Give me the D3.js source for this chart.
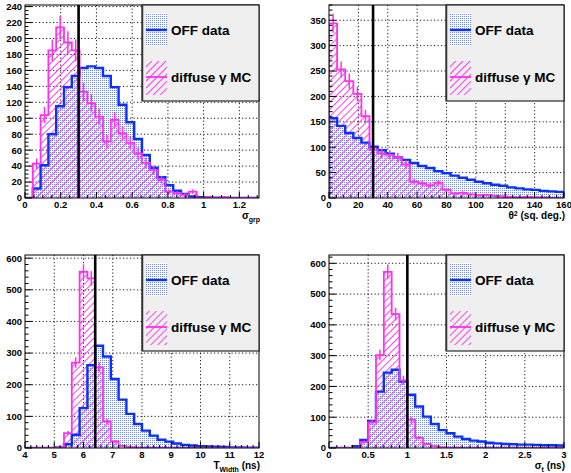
<!DOCTYPE html>
<html>
<head>
<meta charset="utf-8">
<script src="https://cdn.jsdelivr.net/npm/d3@7"></script>
<style>
  body { margin: 0; background: #fff; }
  text { font-family: "Liberation Sans", Arial, Helvetica, sans-serif; font-weight: bold; }
</style>
</head>
<body>
<div id="chart"></div>
<script>
// histogram contents, one entry per bin
const sgrpOff = [0, 12, 41, 80, 115, 139, 153, 163, 165, 163, 153, 139, 117, 95, 74, 54, 38, 26, 16, 9, 5, 2, 1, 1, 0.5, 0.3, 0, 0, 0, 0];
const sgrpMC  = [0, 43, 104, 185, 214, 195, 185, 133, 119, 102, 71, 98, 81, 69, 56, 44, 35, 23, 8, 6, 4, 8, 0, 1, 0, 1, 0, 0, 0, 0];

const th2Off = [157, 142, 128, 118, 109, 101, 94, 87, 80, 75, 69, 63, 59, 53, 49, 44, 40, 36, 32, 29, 26, 24, 21, 19, 17, 16, 14, 13, 12];
const th2MC  = [344, 253, 230, 205, 161, 95, 88, 85, 80, 66, 32, 29, 25, 30, 16, 9, 10, 7, 5, 6, 4, 3, 2, 1, 2, 1, 1, 0, 0];

const twOff = [0, 0, 0, 0, 2, 12, 42, 126, 262, 323, 289, 218, 153, 108, 76, 55, 39, 26, 20, 14, 10, 8, 6, 5, 4, 3, 2, 2, 1, 1];
const twMC  = [0, 0, 0, 0, 2, 47, 270, 557, 536, 255, 84, 21, 7, 3, 1, 1, 0, 0, 0, 0, 0, 0, 0, 0, 0, 0, 0, 0, 0, 0];

const stOff = [0, 0, 0, 6, 26, 88, 183, 245, 254, 216, 173, 135, 102, 78, 58, 48, 37, 29, 24, 21, 17, 15, 13, 12, 11, 11, 10, 9, 9, 8];
const stMC  = [0, 0, 0, 0, 20, 83, 302, 572, 435, 220, 92, 33, 13, 6, 3, 1, 1, 0, 0, 0, 0, 0, 0, 0, 0, 0, 0, 0, 0, 0];

// tick labels
const sgrpXTicks = [0, 0.2, 0.4, 0.6, 0.8, 1, 1.2];
const sgrpYTicks = [0, 20, 40, 60, 80, 100, 120, 140, 160, 180, 200, 220, 240];
const th2XTicks = [0, 20, 40, 60, 80, 100, 120, 140, 160];
const th2YTicks = [0, 50, 100, 150, 200, 250, 300, 350];
const twXTicks = [4, 5, 6, 7, 8, 9, 10, 11, 12];
const twYTicks = [0, 100, 200, 300, 400, 500, 600];
const stXTicks = [0, 0.5, 1, 1.5, 2, 2.5, 3];
const stYTicks = [0, 100, 200, 300, 400, 500, 600];

const legendLabels = ["OFF data", "diffuse \u03b3 MC"];

const BLUE = "#0a32ff", MAG = "#ff30f0";

const panels = [
  { x0: 25, x1: 259, y0: 5, y1: 198, xd: [0, 1.31], yd: [0, 242], off: sgrpOff, mc: sgrpMC, cut: 0.3,
    xt: sgrpXTicks, yt: sgrpYTicks, xm: 4, ym: 4, title: [["\u03c3", 0], ["grp", 1]] },
  { x0: 329, x1: 564, y0: 5, y1: 198, xd: [0, 160], yd: [0, 380], off: th2Off, mc: th2MC, cut: 30,
    xt: th2XTicks, yt: th2YTicks, xm: 4, ym: 5, title: [["\u03b8", 0], ["2", -1], [" (sq. deg.)", 0]] },
  { x0: 25, x1: 259, y0: 255, y1: 448, xd: [4, 12], yd: [0, 610], off: twOff, mc: twMC, cut: 6.4,
    xt: twXTicks, yt: twYTicks, xm: 5, ym: 5, title: [["T", 0], ["Width", 1], [" (ns)", 0]] },
  { x0: 329, x1: 564, y0: 255, y1: 448, xd: [0, 3], yd: [0, 627], off: stOff, mc: stMC, cut: 1.0,
    xt: stXTicks, yt: stYTicks, xm: 5, ym: 5, title: [["\u03c3", 0], ["t", 1], [" (ns)", 0]] }
];

const svg = d3.select("#chart").append("svg")
  .attr("width", 571).attr("height", 473);

const defs = svg.append("defs");
// dotted blue fill
const dots = defs.append("pattern").attr("id", "dots")
  .attr("patternUnits", "userSpaceOnUse").attr("width", 2).attr("height", 2);
dots.append("rect").attr("width", 2).attr("height", 2).attr("fill", "#fff");
dots.append("rect").attr("width", 1).attr("height", 1).attr("fill", "#6f88ff");
// magenta hatch
const hatch = defs.append("pattern").attr("id", "hatch")
  .attr("patternUnits", "userSpaceOnUse").attr("width", 5).attr("height", 5)
  .attr("patternTransform", "rotate(45)");
hatch.append("line").attr("x1", 0.5).attr("y1", 0).attr("x2", 0.5).attr("y2", 5)
  .attr("stroke", MAG).attr("stroke-width", 0.9);

const stepPath = (vals, x, y, edges) => {
  let p = d3.path();
  p.moveTo(x(edges[0]), y(0));
  vals.forEach((v, i) => {
    p.lineTo(x(edges[i]), y(v));
    p.lineTo(x(edges[i + 1]), y(v));
  });
  p.lineTo(x(edges[vals.length]), y(0));
  return p.toString();
};

panels.forEach((P, k) => {
  const x = d3.scaleLinear().domain(P.xd).range([P.x0, P.x1]);
  const y = d3.scaleLinear().domain(P.yd).range([P.y1, P.y0]);
  const n = P.off.length;
  const edges = d3.range(n + 1).map(i => P.xd[0] + i * (P.xd[1] - P.xd[0]) / n);
  const g = svg.append("g");

  defs.append("clipPath").attr("id", "clip" + k).append("rect")
    .attr("x", P.x0).attr("y", P.y0).attr("width", P.x1 - P.x0).attr("height", P.y1 - P.y0);

  // grid
  const grid = g.append("g").attr("stroke", "#000").attr("stroke-width", 0.9)
    .attr("stroke-dasharray", "1.2,2.3");
  P.xt.filter(t => x(t) > P.x0 + 1 && x(t) < P.x1 - 1).forEach(t => {
    grid.append("line").attr("x1", x(t)).attr("x2", x(t)).attr("y1", P.y0).attr("y2", P.y1);
  });
  P.yt.filter(t => y(t) < P.y1 - 1 && y(t) > P.y0 + 1).forEach(t => {
    grid.append("line").attr("y1", y(t)).attr("y2", y(t)).attr("x1", P.x0).attr("x2", P.x1);
  });

  const hg = g.append("g").attr("clip-path", "url(#clip" + k + ")");
  hg.append("path").attr("d", stepPath(P.off, x, y, edges)).attr("fill", "url(#dots)");
  hg.append("path").attr("d", stepPath(P.mc, x, y, edges)).attr("fill", "url(#hatch)");
  hg.append("path").attr("d", stepPath(P.off, x, y, edges)).attr("fill", "none")
    .attr("stroke", BLUE).attr("stroke-width", 2.4);
  hg.append("path").attr("d", stepPath(P.mc, x, y, edges)).attr("fill", "none")
    .attr("stroke", MAG).attr("stroke-width", 1.8);
  // poisson error bars on the MC histogram
  hg.selectAll(".err").data(P.mc.map((v, i) => ({ v, i })).filter(d => d.v > 0))
    .enter().append("line")
    .attr("x1", d => x((edges[d.i] + edges[d.i + 1]) / 2))
    .attr("x2", d => x((edges[d.i] + edges[d.i + 1]) / 2))
    .attr("y1", d => y(d.v - Math.sqrt(d.v)))
    .attr("y2", d => y(d.v + Math.sqrt(d.v)))
    .attr("stroke", MAG).attr("stroke-width", 1.5);

  // cut line
  g.append("line").attr("x1", x(P.cut)).attr("x2", x(P.cut))
    .attr("y1", P.y0).attr("y2", P.y1).attr("stroke", "#000").attr("stroke-width", 2.6);

  // frame
  g.append("rect").attr("x", P.x0).attr("y", P.y0).attr("width", P.x1 - P.x0)
    .attr("height", P.y1 - P.y0).attr("fill", "none").attr("stroke", "#000").attr("stroke-width", 1);

  // ticks
  const tk = g.append("g").attr("stroke", "#000").attr("stroke-width", 1);
  const xStep = P.xt[1] - P.xt[0], yStep = P.yt[1] - P.yt[0];
  for (let t = P.xd[0]; t <= P.xd[1] + 1e-9; t += xStep / P.xm) {
    const major = Math.abs(Math.round((t - P.xt[0]) / xStep) * xStep - (t - P.xt[0])) < 1e-6;
    tk.append("line").attr("x1", x(t)).attr("x2", x(t)).attr("y1", P.y1)
      .attr("y2", P.y1 - (major ? 6 : 3));
  }
  for (let t = P.yd[0]; t <= P.yd[1] + 1e-9; t += yStep / P.ym) {
    const major = Math.abs(Math.round(t / yStep) * yStep - t) < 1e-6;
    tk.append("line").attr("y1", y(t)).attr("y2", y(t)).attr("x1", P.x0)
      .attr("x2", P.x0 + (major ? 7 : 3.5));
  }

  // tick labels
  g.selectAll(".xl").data(P.xt).enter().append("text")
    .attr("x", d => x(d)).attr("y", P.y1 + 9.5).attr("text-anchor", "middle")
    .attr("font-size", 9.5).text(d => d);
  g.selectAll(".yl").data(P.yt).enter().append("text")
    .attr("x", P.x0 - 3).attr("y", d => y(d) + 3.4).attr("text-anchor", "end")
    .attr("font-size", 9.5).text(d => d);

  // axis title, right aligned
  const tt = g.append("text").attr("x", P.x1 + 1).attr("y", P.y1 + 20.5)
    .attr("text-anchor", "end").attr("font-size", 10);
  let prev = 0;
  P.title.forEach(([s, sh]) => {
    const dy = sh * 3 - prev * 3;
    tt.append("tspan").attr("dy", dy).attr("font-size", sh ? 7 : 10).text(s);
    prev = sh;
  });

  // legend
  const lx = P.x0 + 117, ly = P.y0, lw = P.x1 - lx, lh = 96;
  const lg = g.append("g");
  lg.append("rect").attr("x", lx).attr("y", ly).attr("width", lw).attr("height", lh)
    .attr("fill", "#efefef").attr("stroke", "#000").attr("stroke-width", 1);
  lg.append("line").attr("x1", lx + 0.5).attr("x2", lx + 0.5).attr("y1", ly).attr("y2", ly + lh)
    .attr("stroke", "#333").attr("stroke-width", 1.5);
  lg.append("rect").attr("x", lx + 4).attr("y", ly + 8).attr("width", 21).attr("height", 33)
    .attr("fill", "url(#dots)");
  lg.append("line").attr("x1", lx + 4).attr("x2", lx + 25).attr("y1", ly + 25).attr("y2", ly + 25)
    .attr("stroke", BLUE).attr("stroke-width", 2.4);
  lg.append("rect").attr("x", lx + 4).attr("y", ly + 56).attr("width", 21).attr("height", 34)
    .attr("fill", "url(#hatch)");
  lg.append("line").attr("x1", lx + 4).attr("x2", lx + 25).attr("y1", ly + 72).attr("y2", ly + 72)
    .attr("stroke", MAG).attr("stroke-width", 1.8);
  lg.selectAll(".lt").data(legendLabels).enter().append("text")
    .attr("x", lx + 29).attr("y", (d, i) => ly + (i ? 77 : 30))
    .attr("font-size", 13.5).text(d => d);
});
</script>
</body>
</html>
